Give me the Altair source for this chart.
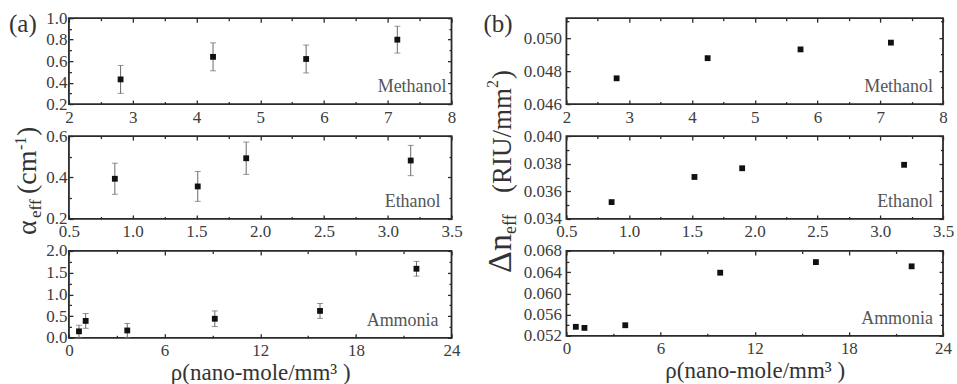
import altair as alt
import pandas as pd

SERIF = "Liberation Serif"

# ---------------- data: (a) attenuation coefficient ----------------
a_meth_x = [2.81, 4.26, 5.72, 7.15]
a_meth_y = [0.43, 0.64, 0.62, 0.80]
a_meth_err = [0.13, 0.13, 0.13, 0.125]

a_eth_x = [0.86, 1.51, 1.89, 3.18]
a_eth_y = [0.394, 0.357, 0.493, 0.482]
a_eth_err = [0.075, 0.072, 0.078, 0.073]

a_amm_x = [0.63, 1.05, 3.66, 9.15, 15.75, 21.8]
a_amm_y = [0.15, 0.39, 0.17, 0.44, 0.62, 1.59]
a_amm_err = [0.14, 0.17, 0.16, 0.18, 0.17, 0.17]

# ---------------- data: (b) effective index change ----------------
b_meth_x = [2.80, 4.25, 5.73, 7.17]
b_meth_y = [0.04756, 0.04878, 0.04931, 0.04972]

b_eth_x = [0.86, 1.52, 1.90, 3.19]
b_eth_y = [0.03522, 0.03704, 0.03767, 0.03792]

b_amm_x = [0.6, 1.15, 3.75, 9.8, 15.9, 22.0]
b_amm_y = [0.0537, 0.0535, 0.0540, 0.0639, 0.0659, 0.0651]

# ---------------- axes ----------------
xm_dom, xm_major, xm_minor = [2, 8], [2, 3, 4, 5, 6, 7, 8], [2.5, 3.5, 4.5, 5.5, 6.5, 7.5]
xe_dom, xe_major, xe_minor = [0.5, 3.5], [0.5, 1.0, 1.5, 2.0, 2.5, 3.0, 3.5], [0.75, 1.25, 1.75, 2.25, 2.75, 3.25]
xa_dom, xa_major, xa_minor = [0, 24], [0, 6, 12, 18, 24], [3, 9, 15, 21]

ya1_dom, ya1_major, ya1_minor = [0.2, 1.0], [0.2, 0.4, 0.6, 0.8, 1.0], [0.3, 0.5, 0.7, 0.9]
ya2_dom, ya2_major, ya2_minor = [0.2, 0.6], [0.2, 0.4, 0.6], [0.3, 0.5]
ya3_dom, ya3_major, ya3_minor = [0.0, 2.0], [0.0, 0.5, 1.0, 1.5, 2.0], [0.25, 0.75, 1.25, 1.75]

yb1_dom, yb1_major, yb1_minor = [0.046, 0.0512], [0.046, 0.048, 0.050], [0.047, 0.049, 0.051]
yb2_dom, yb2_major, yb2_minor = [0.034, 0.040], [0.034, 0.036, 0.038, 0.040], [0.035, 0.037, 0.039]
yb3_dom, yb3_major, yb3_minor = [0.052, 0.068], [0.052, 0.056, 0.060, 0.064, 0.068], [0.054, 0.058, 0.062, 0.066]

XTITLE = "ρ(nano-mole/mm³ )"
FRAME = "#2a2a2a"
LABEL_COLOR = "#3c3c3c"


def panel(xs, ys, errs, xdom, xmaj, xmin, xfmt, ydom, ymaj, ymin, yfmt,
          name, name_dx, w, h, ylabpad, xtitle=None, extra=()):
    df = pd.DataFrame({"x": xs, "y": ys})
    if errs is not None:
        df["lo"] = [y - e for y, e in zip(ys, errs)]
        df["hi"] = [y + e for y, e in zip(ys, errs)]
    xsc = alt.Scale(domain=xdom, nice=False, zero=False)
    ysc = alt.Scale(domain=ydom, nice=False, zero=False)
    base = alt.Chart(df)

    xkw = dict(orient="bottom", values=xmaj, format=xfmt, ticks=False, tickSize=0,
               domain=False, grid=False, labelPadding=5, labelFlush=False,
               labelOverlap=False, labelFont=SERIF, labelFontSize=17,
               labelColor=LABEL_COLOR)
    if xtitle:
        xaxis = alt.Axis(title=xtitle, titleFont=SERIF, titleFontSize=23,
                         titleFontWeight="normal", titleColor="#333",
                         titlePadding=3, **xkw)
    else:
        xaxis = alt.Axis(title=None, **xkw)
    yaxis = alt.Axis(orient="left", values=ymaj, format=yfmt, ticks=False, tickSize=0,
                     domain=False, grid=False, labelPadding=ylabpad,
                     labelOverlap=False, labelFont=SERIF, labelFontSize=17,
                     labelColor=LABEL_COLOR, title=None)

    layers = []
    if errs is not None:
        layers.append(base.mark_rule(color="#6a6a6a", strokeWidth=1).encode(
            x=alt.X("x:Q", scale=xsc, axis=None),
            y=alt.Y("lo:Q", scale=ysc, axis=None), y2="hi:Q"))
        for f in ["lo", "hi"]:
            layers.append(base.mark_tick(orient="horizontal", size=6, thickness=1,
                                         color="#6a6a6a").encode(
                x=alt.X("x:Q", scale=xsc, axis=None),
                y=alt.Y(f + ":Q", scale=ysc, axis=None)))
    layers.append(base.mark_square(size=34, color="#111", opacity=1).encode(
        x=alt.X("x:Q", scale=xsc, axis=xaxis),
        y=alt.Y("y:Q", scale=ysc, axis=yaxis)))

    def ticks(xo, yo, xv, yv, size):
        return base.mark_point(opacity=0).encode(
            x=alt.X("x:Q", scale=xsc, axis=alt.Axis(
                orient=xo, values=xv, labels=False, domain=False, grid=False,
                tickSize=size, offset=-size, tickColor=FRAME, tickWidth=1.3,
                title=None)),
            y=alt.Y("y:Q", scale=ysc, axis=alt.Axis(
                orient=yo, values=yv, labels=False, domain=False, grid=False,
                tickSize=size, offset=-size, tickColor=FRAME, tickWidth=1.3,
                title=None)))

    layers += [ticks("bottom", "left", xmaj, ymaj, 4),
               ticks("top", "right", xmaj, ymaj, 4),
               ticks("bottom", "left", xmin, ymin, 2.5),
               ticks("top", "right", xmin, ymin, 2.5)]

    lab = alt.Chart(pd.DataFrame({"x": [xdom[1]], "y": [ydom[0]], "t": [name]})).mark_text(
        align="right", baseline="middle", dx=name_dx, dy=-17, font=SERIF,
        fontSize=18, color="#555").encode(
        x=alt.X("x:Q", scale=xsc, axis=None),
        y=alt.Y("y:Q", scale=ysc, axis=None), text="t:N")
    layers.append(lab)
    layers += list(extra)
    return alt.layer(*layers).properties(width=w, height=h).resolve_axis(
        x="independent", y="independent")


def piece(text, x, y, size, angle=270, color="#333"):
    return alt.Chart(pd.DataFrame({"t": [text]})).mark_text(
        align="left", baseline="alphabetic", angle=angle, font=SERIF,
        fontSize=size, color=color).encode(
        x=alt.value(x), y=alt.value(y), text="t:N")


# panel tags
tag_a = alt.Chart(pd.DataFrame({"t": ["(a)"]})).mark_text(
    align="left", baseline="middle", font=SERIF, fontSize=25, color="#333").encode(
    x=alt.value(-60), y=alt.value(6), text="t:N")
tag_b = alt.Chart(pd.DataFrame({"t": ["(b)"]})).mark_text(
    align="left", baseline="middle", font=SERIF, fontSize=25, color="#333").encode(
    x=alt.value(-83), y=alt.value(6), text="t:N")

# y titles (rich text assembled from pieces)
ytitle_a = [piece("α", -33, 99, 28),
            piece("eff", -28, 82, 17),
            piece("(cm", -33, 58, 28),
            piece("-1", -43, 14, 16),
            piece(")", -33, 0, 28)]
ytitle_b = [piece("Δn", -55, 137, 34),
            piece("eff", -50, 98, 18),
            piece("(RIU/mm", -55, 57, 27),
            piece("2", -68, -48, 16),
            piece(")", -55, -57, 27)]

WL, WR = 383, 377

a1 = panel(a_meth_x, a_meth_y, a_meth_err, xm_dom, xm_major, xm_minor, "d",
           ya1_dom, ya1_major, ya1_minor, ".1f", "Methanol", -5, WL, 86, 2, extra=[tag_a])
a2 = panel(a_eth_x, a_eth_y, a_eth_err, xe_dom, xe_major, xe_minor, ".1f",
           ya2_dom, ya2_major, ya2_minor, ".1f", "Ethanol", -11, WL, 83, 2, extra=ytitle_a)
a3 = panel(a_amm_x, a_amm_y, a_amm_err, xa_dom, xa_major, xa_minor, "d",
           ya3_dom, ya3_major, ya3_minor, ".1f", "Ammonia", -13, WL, 87, 2, xtitle=XTITLE)

b1 = panel(b_meth_x, b_meth_y, None, xm_dom, xm_major, xm_minor, "d",
           yb1_dom, yb1_major, yb1_minor, ".3f", "Methanol", -10, WR, 86, 5, extra=[tag_b])
b2 = panel(b_eth_x, b_eth_y, None, xe_dom, xe_major, xe_minor, ".1f",
           yb2_dom, yb2_major, yb2_minor, ".3f", "Ethanol", -10, WR, 83, 5, extra=ytitle_b)
b3 = panel(b_amm_x, b_amm_y, None, xa_dom, xa_major, xa_minor, "d",
           yb3_dom, yb3_major, yb3_minor, ".3f", "Ammonia", -10, WR, 85, 5, xtitle=XTITLE)

chart = alt.concat(
    a1, b1, a2, b2, a3, b3,
    columns=2, spacing={"row": 32, "column": 115}, bounds="flush", align="each",
).properties(
    padding={"left": 8, "top": 8, "right": 2, "bottom": 2},
    background="white",
).configure_view(
    stroke=FRAME, strokeWidth=1.8
).configure_axis(
    labelFont=SERIF, labelFontSize=17, labelColor=LABEL_COLOR
)

chart.save("out.html", embed_options={"renderer": "svg", "actions": False})
